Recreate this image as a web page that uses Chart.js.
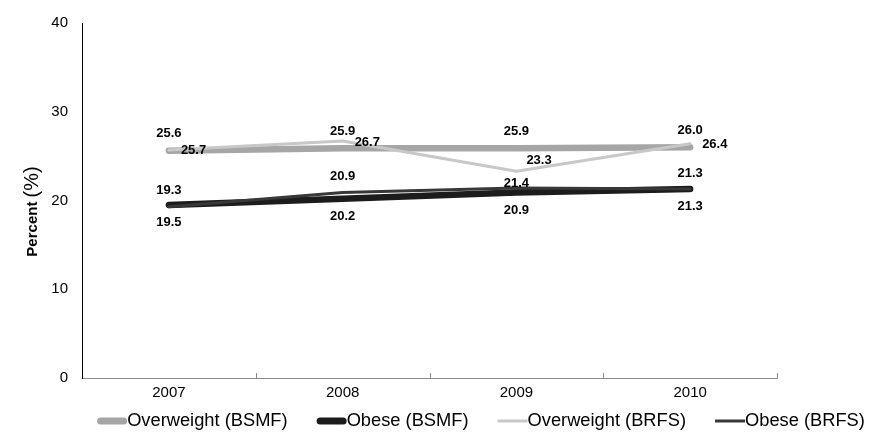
<!DOCTYPE html>
<html>
<head>
<meta charset="utf-8">
<script src="https://cdn.jsdelivr.net/npm/chart.js@4/dist/chart.umd.min.js"></script>
<style>
  html, body { margin: 0; padding: 0; background: #fff; }
  canvas { display: block; }
</style>
</head>
<body>
<canvas id="chart" width="870" height="432"></canvas>
<script>
// Survey years and prevalence (%) by source
const years = ['2007', '2008', '2009', '2010'];
const overweightBSMF = [25.6, 25.9, 25.9, 26.0];
const obeseBSMF = [19.5, 20.2, 20.9, 21.3];
const overweightBRFS = [25.7, 26.7, 23.3, 26.4];
const obeseBRFS = [19.3, 20.9, 21.4, 21.3];
const yTicks = [0, 10, 20, 30, 40];

const FONT = 'Arial, "Liberation Sans", Helvetica, sans-serif';

// Where each value label sits relative to its point
const labelPlacement = {
  overweightBSMF: ['top', 'top', 'top', 'top'],
  obeseBSMF: ['bottom', 'bottom', 'bottom', 'bottom'],
  overweightBRFS: ['right', 'right', 'upright', 'right'],
  obeseBRFS: ['topnear', 'topnear', 'near', 'topnear']
};

const valueLabels = {
  id: 'valueLabels',
  afterDatasetsDraw(chart) {
    const ctx = chart.ctx;
    ctx.save();
    ctx.font = 'bold 13px ' + FONT;
    ctx.fillStyle = '#000';
    ctx.textBaseline = 'middle';
    chart.data.datasets.forEach((ds, di) => {
      const meta = chart.getDatasetMeta(di);
      const places = labelPlacement[ds.key];
      meta.data.forEach((pt, i) => {
        const txt = ds.data[i].toFixed(1);
        const p = places[i];
        let x = pt.x, y = pt.y;
        if (p === 'top') { ctx.textAlign = 'center'; y -= 17; }
        else if (p === 'topnear') { ctx.textAlign = 'center'; y -= 16; }
        else if (p === 'bottom') { ctx.textAlign = 'center'; y += 17.5; }
        else if (p === 'right') { ctx.textAlign = 'left'; x += 12; y += 1; }
        else if (p === 'upright') { ctx.textAlign = 'left'; x += 10; y -= 11; }
        else if (p === 'near') { ctx.textAlign = 'center'; y -= 5; }
        ctx.fillText(txt, x, y);
      });
    });
    ctx.restore();
  }
};

// Short upward tick marks at category boundaries on the x axis
const xTickMarks = {
  id: 'xTickMarks',
  afterDraw(chart) {
    const xs = chart.scales.x;
    const ctx = chart.ctx;
    const n = chart.data.labels.length;
    const step = xs.width / n;
    ctx.save();
    ctx.strokeStyle = '#8c8c8c';
    ctx.lineWidth = 1;
    for (let k = 1; k <= n; k++) {
      const x = Math.round(xs.left + step * k) + 0.5;
      ctx.beginPath();
      ctx.moveTo(x, xs.top);
      ctx.lineTo(x, xs.top - 5);
      ctx.stroke();
    }
    ctx.restore();
  }
};

// Rotated y-axis title in two type styles
const yTitle = {
  id: 'yTitle',
  afterDraw(chart) {
    const ctx = chart.ctx;
    const a = 'Percent ';
    const b = '(%)';
    ctx.save();
    const fa = 'bold 15px ' + FONT;
    const fb = '20px ' + FONT;
    ctx.font = fa; const wa = ctx.measureText(a).width;
    ctx.font = fb; const wb = ctx.measureText(b).width;
    const cy = (chart.chartArea.top + chart.chartArea.bottom) / 2 + 11;
    ctx.translate(33, cy);
    ctx.rotate(-Math.PI / 2);
    ctx.textBaseline = 'middle';
    ctx.textAlign = 'left';
    ctx.fillStyle = '#000';
    const start = -(wa + wb) / 2;
    ctx.font = fa; ctx.fillText(a, start, 0);
    ctx.font = fb; ctx.fillText(b, start + wa, -1);
    ctx.restore();
  }
};

// Legend: line swatch immediately followed by its label
const lineLegend = {
  id: 'lineLegend',
  afterDraw(chart) {
    const ctx = chart.ctx;
    const sw = 30, gap = 29, cy = 421;
    ctx.save();
    ctx.font = '18.3px ' + FONT;
    ctx.textBaseline = 'middle';
    ctx.textAlign = 'left';
    const items = chart.data.datasets.map(ds => ({ ds, w: ctx.measureText(ds.label).width }));
    const total = items.reduce((s, it) => s + sw + it.w, 0) + gap * (items.length - 1);
    let x = 481 - total / 2;
    items.forEach(it => {
      ctx.strokeStyle = it.ds.borderColor;
      ctx.lineWidth = it.ds.legendWidth;
      ctx.lineCap = it.ds.legendWidth > 4 ? 'round' : 'butt';
      const inset = it.ds.legendWidth > 4 ? it.ds.legendWidth / 2 : 0;
      ctx.beginPath();
      ctx.moveTo(x + inset, cy);
      ctx.lineTo(x + sw - inset, cy);
      ctx.stroke();
      ctx.fillStyle = '#000';
      ctx.fillText(it.ds.label, x + sw, cy);
      x += sw + it.w + gap;
    });
    ctx.restore();
  }
};

new Chart(document.getElementById('chart'), {
  type: 'line',
  data: {
    labels: years,
    datasets: [
      { key: 'overweightBSMF', label: 'Overweight (BSMF)', data: overweightBSMF,
        borderColor: '#a6a6a6', borderWidth: 6.5, legendWidth: 7, order: 2 },
      { key: 'obeseBSMF', label: 'Obese (BSMF)', data: obeseBSMF,
        borderColor: '#1c1c1c', borderWidth: 6.5, legendWidth: 7, order: 2 },
      { key: 'overweightBRFS', label: 'Overweight (BRFS)', data: overweightBRFS,
        borderColor: '#c8c8c8', borderWidth: 3, legendWidth: 3, order: 1 },
      { key: 'obeseBRFS', label: 'Obese (BRFS)', data: obeseBRFS,
        borderColor: '#383838', borderWidth: 3, legendWidth: 3, order: 1 }
    ].map(d => Object.assign({
      fill: false, tension: 0, pointRadius: 0, pointHoverRadius: 0,
      borderCapStyle: 'round', borderJoinStyle: 'round'
    }, d))
  },
  options: {
    responsive: false,
    animation: false,
    devicePixelRatio: 1,
    layout: { padding: { left: 0, right: 93, top: 21, bottom: 0 } },
    plugins: { legend: { display: false }, tooltip: { enabled: false } },
    scales: {
      x: {
        offset: true,
        grid: { display: false, drawTicks: false },
        border: { display: true, color: '#8c8c8c', width: 1 },
        ticks: { color: '#000', font: { family: FONT, size: 15 }, padding: 6, maxRotation: 0 },
        afterFit(scale) { scale.height = 54; }
      },
      y: {
        min: 0, max: 40,
        afterBuildTicks(scale) { scale.ticks = yTicks.map(v => ({ value: v })); },
        grid: { display: false, drawTicks: false },
        border: { display: true, color: '#000', width: 1 },
        ticks: { color: '#000', font: { family: FONT, size: 15 }, padding: 14 },
        afterFit(scale) { scale.width = 82; }
      }
    }
  },
  plugins: [valueLabels, xTickMarks, yTitle, lineLegend]
});
</script>
</body>
</html>
